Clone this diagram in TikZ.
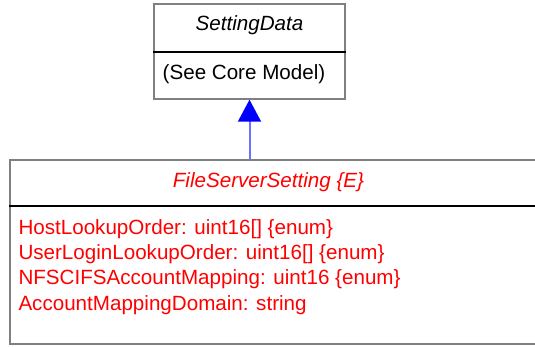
\documentclass[tikz,border=0pt]{standalone}
\usepackage{fontspec}
\setmainfont{Liberation Sans}
\usetikzlibrary{arrows.meta}
\definecolor{linkBlue}{RGB}{110,110,255}

\begin{document}
\begin{tikzpicture}[x = 1pt, y = -1pt]
	\tikzstyle{classStyle} = [shape = rectangle, draw = gray, line width = 1.4pt, inner sep = 0pt]
	\tikzstyle{dividerStyle} = [draw = black, line width = 1.2pt]
	\tikzstyle{textStyle} = [inner sep = 0pt, font = \fontsize{20.6}{25.3}\selectfont]
	\tikzstyle{inheritStyle} = [color = linkBlue, line width = 2pt, -{Triangle[length = 22pt, width = 23pt, color = blue, fill = blue]}]
	\clip (0, 0) rectangle (535, 346);
	% superclass
	\node[classStyle, minimum width = 191pt, minimum height = 95pt] (settingData) at (249.5, 51.5) {};
	\draw[dividerStyle] (settingData.west |- 0, 52) -- (settingData.east |- 0, 52);
	\node[textStyle, anchor = base] (settingDataName) at (249.5, 30) {\itshape SettingData};
	\node[textStyle, anchor = base west] (settingDataBody) at (162.5, 79) {(See Core Model)};
	% subclass
	\node[classStyle, minimum width = 550pt, minimum height = 184pt] (fileServerSetting) at (285, 252) {};
	\draw[dividerStyle] (fileServerSetting.west |- 0, 206) -- (fileServerSetting.east |- 0, 206);
	\node[textStyle, anchor = base, text = red] (fileServerSettingName) at (268.5, 187) {\itshape FileServerSetting \{E\}};
	\node[textStyle, anchor = base west, text = red, align = left] (fileServerSettingBody) at (18.3, 310)
		{HostLookupOrder: uint16[] \{enum\}\\
		 UserLoginLookupOrder: uint16[] \{enum\}\\
		 NFSCIFSAccountMapping: uint16 \{enum\}\\
		 AccountMappingDomain: string};
	% inheritance
	\draw[inheritStyle] (settingData.south |- fileServerSetting.north) -- (settingData.south);
\end{tikzpicture}
\end{document}
